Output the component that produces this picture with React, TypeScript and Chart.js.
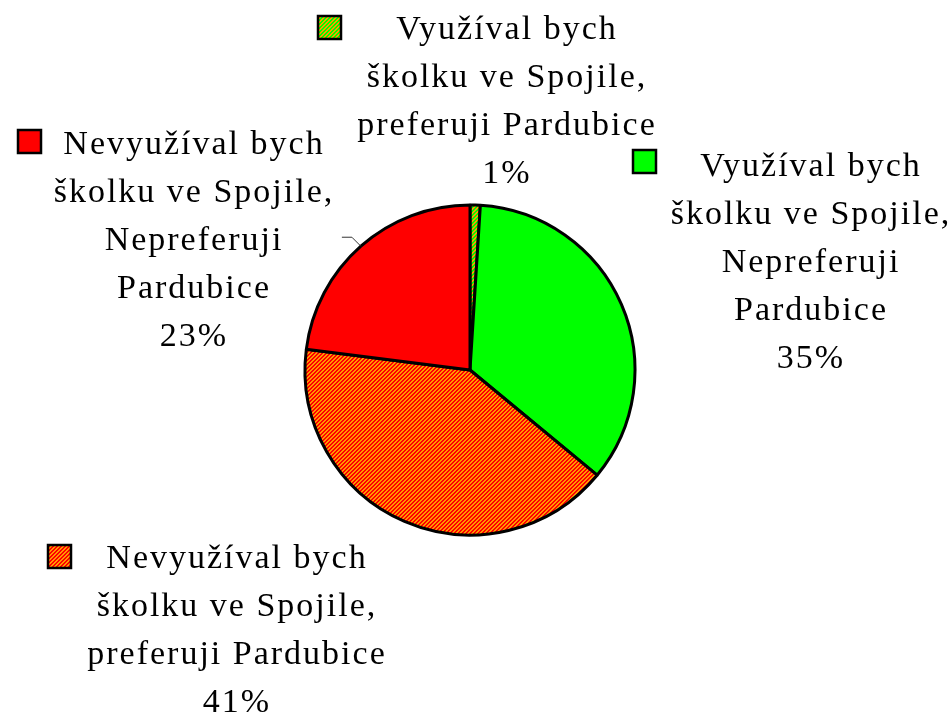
import React, { useEffect, useRef } from "react";
import { Chart, registerables } from "chart.js";

Chart.register(...registerables);

// ---- data ----
const categories = [
  "Využíval bych školku ve Spojile, preferuji Pardubice",
  "Využíval bych školku ve Spojile, Nepreferuji Pardubice",
  "Nevyužíval bych školku ve Spojile, preferuji Pardubice",
  "Nevyužíval bych školku ve Spojile, Nepreferuji Pardubice",
];
const labelLines = [
  ["Využíval bych", "školku ve Spojile,", "preferuji Pardubice"],
  ["Využíval bych", "školku ve Spojile,", "Nepreferuji", "Pardubice"],
  ["Nevyužíval bych", "školku ve Spojile,", "preferuji Pardubice"],
  ["Nevyužíval bych", "školku ve Spojile,", "Nepreferuji", "Pardubice"],
];
const values = [1, 35, 41, 23];
const percentLabels = ["1%", "35%", "41%", "23%"];

// ---- style / layout ----
const RED = "#FF0000";
const GREEN = "#00FF00";
const ORANGE = "#FF9900";
const FONT = '34px "Liberation Serif", "Times New Roman", serif';
const LINE_H = 48;
const BOX = 23;
// label block placement: text centre x, first baseline y, legend box x/y
const labelPos = [
  { cx: 506, by: 39, bx: 318, byBox: 16 },
  { cx: 810, by: 176, bx: 633, byBox: 150 },
  { cx: 236, by: 568, bx: 48, byBox: 545 },
  { cx: 193, by: 154, bx: 18, byBox: 130 },
];

function makeStripes(bg: string, fg: string): CanvasPattern | string {
  const c = document.createElement("canvas");
  c.width = 4;
  c.height = 4;
  const g = c.getContext("2d");
  if (!g) return bg;
  for (let x = 0; x < 4; x++) {
    for (let y = 0; y < 4; y++) {
      g.fillStyle = (x + y) % 4 < 2 ? fg : bg;
      g.fillRect(x, y, 1, 1);
    }
  }
  const p = g.createPattern(c, "repeat");
  return p || bg;
}

export default function App() {
  const ref = useRef<HTMLCanvasElement | null>(null);

  useEffect(() => {
    const canvas = ref.current;
    if (!canvas) return;
    const fills = [
      makeStripes(GREEN, ORANGE),
      GREEN,
      makeStripes(RED, ORANGE),
      RED,
    ];

    const labelPlugin = {
      id: "outsideLabels",
      afterDraw(chart: any) {
        const ctx = chart.ctx as CanvasRenderingContext2D;
        const meta = chart.getDatasetMeta(0);
        ctx.save();
        // leader line for the last slice
        const arc: any = meta.data[3];
        if (arc) {
          const p = arc.getProps(["x", "y", "startAngle", "endAngle", "outerRadius"], true);
          const a = (p.startAngle + p.endAngle) / 2;
          const ex = p.x + p.outerRadius * Math.cos(a);
          const ey = p.y + p.outerRadius * Math.sin(a);
          ctx.strokeStyle = "#333";
          ctx.lineWidth = 1;
          ctx.beginPath();
          ctx.moveTo(ex, ey);
          ctx.lineTo(ex - 9, ey - 9);
          ctx.lineTo(ex - 19, ey - 9);
          ctx.stroke();
        }
        ctx.font = FONT;
        (ctx as any).letterSpacing = "2px";
        ctx.fillStyle = "#000";
        ctx.textAlign = "center";
        ctx.textBaseline = "alphabetic";
        for (let i = 0; i < values.length; i++) {
          const pos = labelPos[i];
          const lines = [...labelLines[i], percentLabels[i]];
          lines.forEach((t, k) => {
            ctx.fillText(t, pos.cx + 1, pos.by + k * LINE_H);
          });
          ctx.fillStyle = fills[i] as any;
          ctx.fillRect(pos.bx, pos.byBox, BOX, BOX);
          ctx.strokeStyle = "#000";
          ctx.lineWidth = 2.5;
          ctx.strokeRect(pos.bx, pos.byBox, BOX, BOX);
          ctx.fillStyle = "#000";
        }
        ctx.restore();
      },
    };

    const chart = new Chart(canvas, {
      type: "pie",
      data: {
        labels: categories,
        datasets: [
          {
            data: values,
            backgroundColor: fills as any,
            borderColor: "#000",
            borderWidth: 3,
            hoverOffset: 0,
          },
        ],
      },
      options: {
        responsive: false,
        animation: false,
        radius: 165,
        layout: { padding: { top: 100, bottom: 73, left: 200, right: 212 } },
        plugins: {
          legend: { display: false },
          tooltip: { enabled: false },
        },
        events: [],
      } as any,
      plugins: [labelPlugin],
    });
    return () => chart.destroy();
  }, []);

  return (
    <div style={{ position: "fixed", left: 0, top: 0, width: 952, height: 713, background: "#fff" }}>
      <canvas ref={ref} width={952} height={713} style={{ width: 952, height: 713, display: "block" }} />
    </div>
  );
}
